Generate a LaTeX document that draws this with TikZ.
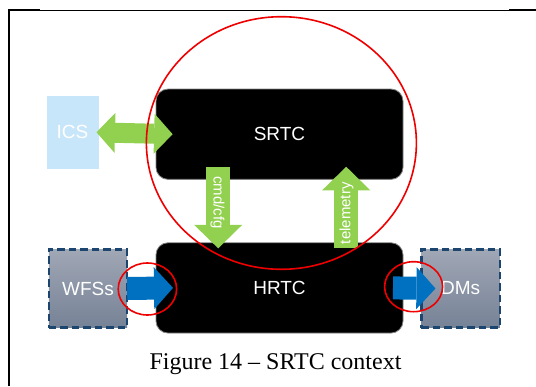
\documentclass[tikz,border=0pt]{standalone}
\usepackage{fontspec}
\setmainfont{Liberation Serif}
\newfontfamily\arialfont{Liberation Sans}
\usetikzlibrary{arrows.meta}

\definecolor{flowgreen}{RGB}{146,208,80}
\definecolor{flowblue}{RGB}{0,112,192}
\definecolor{icsblue}{RGB}{200,230,250}
\definecolor{dashnavy}{RGB}{28,70,112}
\definecolor{devtop}{RGB}{160,167,181}
\definecolor{devbottom}{RGB}{118,130,150}
\definecolor{rtcedge}{RGB}{130,130,130}
\definecolor{markred}{RGB}{238,0,0}

\begin{document}
\begin{tikzpicture}[x=1pt,y=-1pt,
  labelfont/.style={text=white,font=\arialfont\fontsize{19}{19}\selectfont},
  rtc/.style={labelfont,fill=black,draw=rtcedge,line width=0.8pt,
    rounded corners=12pt,minimum width=247pt,minimum height=90.3pt,
    inner sep=0pt,outer sep=0pt},
  device/.style={labelfont,top color=devtop,bottom color=devbottom,
    draw=dashnavy,line width=2.3pt,dash pattern=on 7.5pt off 4pt,
    minimum width=78.3pt,minimum height=78pt,inner sep=0pt,outer sep=0pt},
  extbox/.style={labelfont,fill=icsblue,minimum width=52pt,
    minimum height=73.3pt,inner sep=0pt,outer sep=0pt},
  greenflow/.style={draw=flowgreen,line width=24pt,
    -{Triangle[width=48pt,length=23.5pt,line width=0pt]}},
  twoway/.style={draw=flowgreen,line width=20pt,
    {Triangle[width=40pt,length=18.5pt,line width=0pt]}-{Triangle[width=40pt,length=18.5pt,line width=0pt]}},
  blueflow/.style={draw=flowblue,line width=23pt,
    -{Triangle[width=42pt,length=19pt,line width=0pt]}},
  arrowtext/.style={text=white,font=\arialfont\fontsize{15}{15}\selectfont,inner sep=0pt},
  ringmark/.style={draw=markred,line width=1.6pt},
]
\useasboundingbox (0,0) rectangle (536,386);

% page frame
\draw[line width=1.2pt] (8,10.3) -- (536,10.3);
\draw[line width=2pt] (8,10.3) -- (40,10.3);
\draw[line width=2pt] (509,10.3) -- (536,10.3);
\draw[line width=2pt] (9,9.3) -- (9,386);

% blocks
\node[extbox] (ics) at (72.5,132.3) {ICS};
\node[rtc] (srtc) at (279.5,134.2) {SRTC};
\node[rtc] (hrtc) at (279.5,287.9) {HRTC};
\node[device] (wfs) at (88,288.5) {WFSs};
\node[device] (dms) at (460.6,288.5) {DMs};

% interfaces
\draw[twoway] ([xshift=-2pt]ics.east) -- ([xshift=16.6pt]srtc.west);
\draw[greenflow] ([xshift=-61.3pt,yshift=12.6pt]srtc.south)
  -- ([xshift=-61.3pt,yshift=-5.6pt]hrtc.north);
\draw[greenflow] ([xshift=66.7pt,yshift=-5.6pt]hrtc.north)
  -- ([xshift=66.7pt,yshift=12.6pt]srtc.south);
\draw[blueflow] (wfs.east) -- ([xshift=17pt]hrtc.west);
\draw[blueflow] ([xshift=-10pt]hrtc.east) -- ([xshift=14pt]dms.west);

\node[arrowtext,rotate=-90] (cmdlabel) at (217.5,202.5) {cmd/cfg};
\node[arrowtext,rotate=90] (telelabel) at (346.5,213.3) {telemetry};

% highlight rings
\draw[ringmark] (281.4,143) ellipse [x radius=135pt,y radius=126.3pt];
\draw[ringmark] (147.4,289) ellipse [x radius=29.2pt,y radius=26pt];
\draw[ringmark] (413.6,286.7) ellipse [x radius=29pt,y radius=25pt];

% caption
\node[anchor=base,inner sep=0pt,font=\fontsize{24}{28}\selectfont] (caption)
  at (275.5,369) {Figure 14 – SRTC context};
\end{tikzpicture}
\end{document}
